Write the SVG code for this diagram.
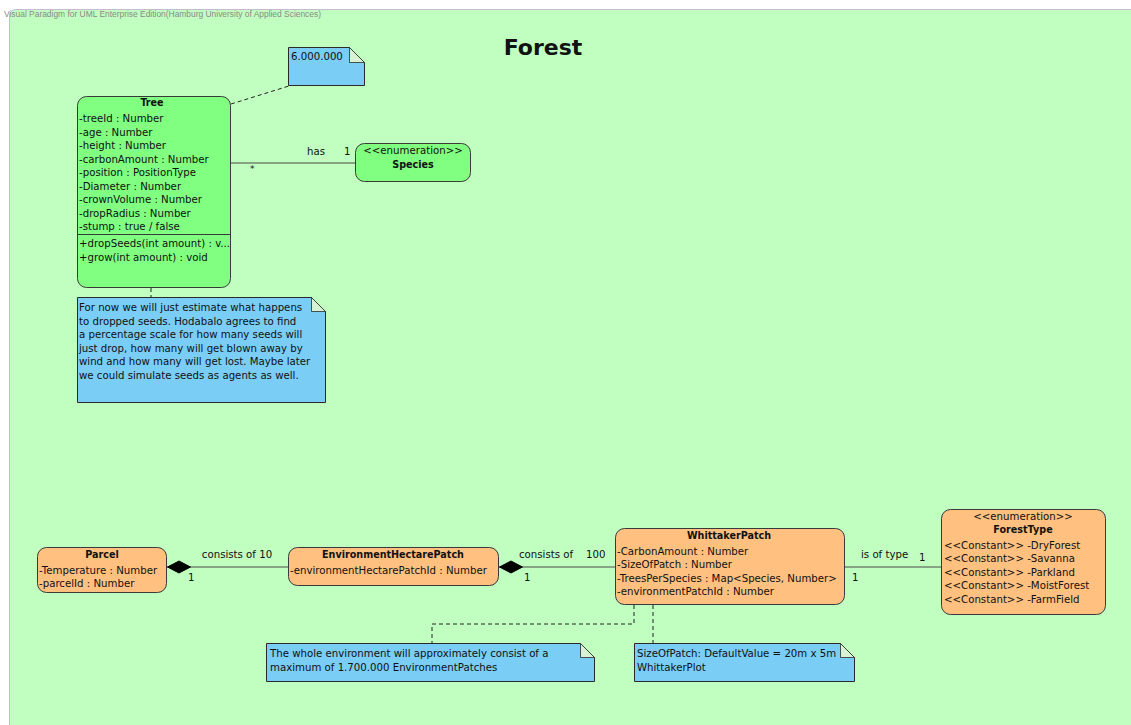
<svg xmlns="http://www.w3.org/2000/svg" width="1131" height="725" viewBox="0 0 1131 725">
  <defs>
    <style>
      text { font-family: "DejaVu Sans", "Liberation Sans", sans-serif; font-size: 10.2px; fill: #111; }
      .b { font-weight: bold; font-size: 9.6px; }
      .c { text-anchor: middle; }
      .cls-green { fill: #80ff80; stroke: #3a3a3a; stroke-width: 1; }
      .cls-orange { fill: #ffc080; stroke: #3a3a3a; stroke-width: 1; }
      .note { fill: #7acdf5; stroke: #2a2a2a; stroke-width: 1; }
      .fold { fill: #d8f2d4; stroke: #2a2a2a; stroke-width: 0.8; }
      .conn { fill: none; stroke: #4a4a4a; stroke-width: 1; }
      .anchor { fill: none; stroke: #222; stroke-width: 1; stroke-dasharray: 4 3; }
      .diamond { fill: #000; stroke: #000; stroke-width: 1; }
      .sep { stroke: #3a3a3a; stroke-width: 1; }
    </style>
  </defs>

  <!-- canvas -->
  <rect x="0" y="0" width="1131" height="725" fill="#ffffff"/>
  <rect x="9.5" y="9.5" width="1140" height="740" rx="6" fill="#c0ffc0" stroke="#c4bcd0" stroke-width="1"/>
  <text x="4" y="17" textLength="317" lengthAdjust="spacingAndGlyphs" style="font-family:'Liberation Sans',sans-serif;font-size:8.5px;fill:#8a8a8a;">Visual Paradigm for UML Enterprise Edition(Hamburg University of Applied Sciences)</text>

  <text x="543" y="55" class="c" style="font-size:22px;font-weight:bold;">Forest</text>

  <!-- connectors -->
  <g id="connectors">
    <line class="anchor" x1="231" y1="104" x2="289" y2="86"/>
    <line class="anchor" x1="151" y1="288" x2="151" y2="297"/>
    <line class="conn" x1="231" y1="163" x2="355" y2="163"/>
    <text x="307" y="155">has</text>
    <text x="344" y="155">1</text>
    <text x="250" y="172" style="font-size:9px;">*</text>

    <line class="conn" x1="167" y1="567" x2="288" y2="567"/>
    <polygon class="diamond" points="167.5,567 179,561 190.5,567 179,573"/>
    <text x="237" y="558" class="c">consists of 10</text>
    <text x="188" y="581">1</text>

    <line class="conn" x1="499" y1="567" x2="615" y2="567"/>
    <polygon class="diamond" points="499.5,567 511,561 522.5,567 511,573"/>
    <text x="519" y="558">consists of</text>
    <text x="586" y="558">100</text>
    <text x="524" y="581">1</text>

    <line class="conn" x1="845" y1="567" x2="942" y2="567"/>
    <text x="861" y="558">is of type</text>
    <text x="919" y="561">1</text>
    <text x="852" y="581">1</text>

    <polyline class="anchor" points="634,605 634,624 432,624 432,643"/>
    <line class="anchor" x1="653" y1="605" x2="653" y2="643"/>
  </g>

  <!-- Tree -->
  <g id="tree">
    <rect class="cls-green" x="77.5" y="96.5" width="153" height="191" rx="9"/>
    <line class="sep" x1="77.5" y1="234.5" x2="230.5" y2="234.5"/>
    <text x="152" y="106" class="b c">Tree</text>
    <text x="79" y="122">-treeId : Number</text>
    <text x="79" y="135.5">-age : Number</text>
    <text x="79" y="149">-height : Number</text>
    <text x="79" y="162.5">-carbonAmount : Number</text>
    <text x="79" y="176">-position : PositionType</text>
    <text x="79" y="189.5">-Diameter : Number</text>
    <text x="79" y="203">-crownVolume : Number</text>
    <text x="79" y="216.5">-dropRadius : Number</text>
    <text x="79" y="230">-stump : true / false</text>
    <text x="79" y="247">+dropSeeds(int amount) : v...</text>
    <text x="79" y="260.5">+grow(int amount) : void</text>
  </g>

  <!-- Species -->
  <g id="species">
    <rect class="cls-green" x="355.5" y="143.5" width="115" height="38" rx="9"/>
    <text x="413" y="154" class="c">&lt;&lt;enumeration&gt;&gt;</text>
    <text x="413" y="168" class="b c">Species</text>
  </g>

  <!-- note: 6.000.000 -->
  <g id="note-count">
    <path class="note" d="M288.5,47.5 H349.5 L364.5,62.5 V85.5 H288.5 Z"/>
    <path class="fold" d="M349.5,47.5 V62.5 H364.5 Z"/>
    <text x="291" y="60">6.000.000</text>
  </g>

  <!-- note: seeds -->
  <g id="note-seeds">
    <path class="note" d="M77.5,297.5 H311.5 L325.5,311.5 V402.5 H77.5 Z"/>
    <path class="fold" d="M311.5,297.5 V311.5 H325.5 Z"/>
    <text x="79" y="311">For now we will just estimate what happens</text>
    <text x="79" y="324.5">to dropped seeds. Hodabalo agrees to find</text>
    <text x="79" y="338">a percentage scale for how many seeds will</text>
    <text x="79" y="351.5">just drop, how many will get blown away by</text>
    <text x="79" y="365">wind and how many will get lost. Maybe later</text>
    <text x="79" y="378.5">we could simulate seeds as agents as well.</text>
  </g>

  <!-- Parcel -->
  <g id="parcel">
    <rect class="cls-orange" x="37.5" y="547.5" width="129" height="45" rx="9"/>
    <text x="102" y="558" class="b c">Parcel</text>
    <text x="39" y="574">-Temperature : Number</text>
    <text x="39" y="587">-parcelId : Number</text>
  </g>

  <!-- EnvironmentHectarePatch -->
  <g id="environment-hectare-patch">
    <rect class="cls-orange" x="288.5" y="547.5" width="210" height="38" rx="9"/>
    <text x="393" y="558" class="b c">EnvironmentHectarePatch</text>
    <text x="290" y="574">-environmentHectarePatchId : Number</text>
  </g>

  <!-- WhittakerPatch -->
  <g id="whittaker-patch">
    <rect class="cls-orange" x="615.5" y="528.5" width="229" height="76" rx="9"/>
    <text x="729" y="539" class="b c">WhittakerPatch</text>
    <text x="617" y="555">-CarbonAmount : Number</text>
    <text x="617" y="568">-SizeOfPatch : Number</text>
    <text x="617" y="581.5">-TreesPerSpecies : Map&lt;Species, Number&gt;</text>
    <text x="617" y="595">-environmentPatchId : Number</text>
  </g>

  <!-- ForestType -->
  <g id="forest-type">
    <rect class="cls-orange" x="941.5" y="509.5" width="164" height="105" rx="9"/>
    <text x="1023" y="520" class="c">&lt;&lt;enumeration&gt;&gt;</text>
    <text x="1023" y="533" class="b c">ForestType</text>
    <text x="944" y="548.5">&lt;&lt;Constant&gt;&gt; -DryForest</text>
    <text x="944" y="562">&lt;&lt;Constant&gt;&gt; -Savanna</text>
    <text x="944" y="575.5">&lt;&lt;Constant&gt;&gt; -Parkland</text>
    <text x="944" y="589">&lt;&lt;Constant&gt;&gt; -MoistForest</text>
    <text x="944" y="602.5">&lt;&lt;Constant&gt;&gt; -FarmField</text>
  </g>

  <!-- note: environment size -->
  <g id="note-environment">
    <path class="note" d="M266.5,643.5 H580.5 L594.5,657.5 V681.5 H266.5 Z"/>
    <path class="fold" d="M580.5,643.5 V657.5 H594.5 Z"/>
    <text x="270" y="657">The whole environment will approximately consist of a</text>
    <text x="270" y="671">maximum of 1.700.000 EnvironmentPatches</text>
  </g>

  <!-- note: patch size -->
  <g id="note-patch-size">
    <path class="note" d="M634.5,643.5 H840.5 L854.5,657.5 V681.5 H634.5 Z"/>
    <path class="fold" d="M840.5,643.5 V657.5 H854.5 Z"/>
    <text x="637" y="657">SizeOfPatch: DefaultValue = 20m x 5m</text>
    <text x="637" y="671">WhittakerPlot</text>
  </g>
</svg>
